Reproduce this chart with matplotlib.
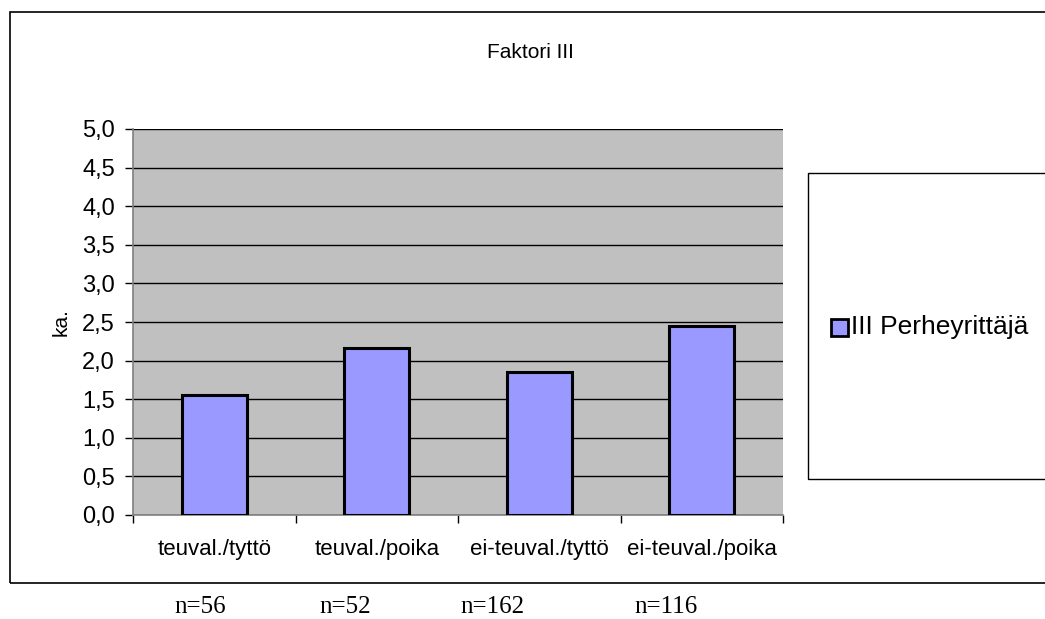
import numpy as np
import matplotlib.pyplot as plt
from matplotlib.patches import Rectangle

kategoriat = ["teuval./tyttö", "teuval./poika", "ei-teuval./tyttö", "ei-teuval./poika"]
arvot = [1.56, 2.16, 1.85, 2.45]
n_arvot = ["n=56", "n=52", "n=162", "n=116"]
sarja = "III Perheyrittäjä"
otsikko = "Faktori III"

W, H = 1045, 619
fig = plt.figure(figsize=(W / 100, H / 100), dpi=100)
plt.rcParams['font.family'] = ['Liberation Sans', 'DejaVu Sans']

def fx(px):
    return px / W

def fy(py):
    return 1 - py / H

# ulkoreunus
fig.patches.append(Rectangle((fx(10), fy(583)), fx(1100) - fx(10), fy(12) - fy(583),
                             transform=fig.transFigure, fill=False, edgecolor='black',
                             linewidth=1.2, clip_on=False))

ax = fig.add_axes([fx(133), fy(515), fx(783) - fx(133), fy(129) - fy(515)])
ax.set_facecolor('#c0c0c0')
x = np.arange(len(kategoriat))
ax.bar(x, arvot, width=0.4, color='#9999ff', edgecolor='black', linewidth=2.2, zorder=3)
ax.set_xlim(-0.5, len(kategoriat) - 0.5)
ax.set_ylim(0, 5)
ax.set_yticks(np.arange(0, 5.01, 0.5))
ax.set_yticklabels([f"{v:.1f}".replace('.', ',') for v in np.arange(0, 5.01, 0.5)], fontsize=17)
ax.yaxis.grid(True, color='black', linewidth=1, zorder=1)
ax.set_axisbelow(True)
ax.set_xticks(np.arange(-0.5, len(kategoriat)), minor=False)
ax.set_xticklabels([])
ax.set_xticks(x, minor=True)
ax.set_xticklabels(kategoriat, minor=True, fontsize=16)
ax.tick_params(axis='x', which='minor', length=0, pad=17)
ax.tick_params(axis='x', which='major', length=6, direction='out', width=1)
ax.tick_params(axis='y', length=6, direction='out', width=1, pad=7)
for s in ['top', 'right']:
    ax.spines[s].set_visible(False)
ax.spines['left'].set_color('#808080')
ax.spines['left'].set_linewidth(1.2)
ax.spines['bottom'].set_color('#808080')
ax.spines['bottom'].set_linewidth(1.2)
ax.set_ylabel("ka.", fontsize=15, labelpad=8)

fig.text(fx(530), fy(52), otsikko, ha='center', va='center', fontsize=15)

# selitelaatikko
fig.patches.append(Rectangle((fx(808), fy(479)), fx(1100) - fx(808), fy(173) - fy(479),
                             transform=fig.transFigure, fill=False, edgecolor='black',
                             linewidth=1, clip_on=False))
fig.patches.append(Rectangle((fx(831), fy(336)), fx(17), fy(319) - fy(336),
                             transform=fig.transFigure, facecolor='#9999ff',
                             edgecolor='black', linewidth=2))
fig.text(fx(851), fy(327), sarja, ha='left', va='center', fontsize=19)

# n-arvot
for xp, t in zip([200, 345, 492, 666], n_arvot):
    fig.text(fx(xp), fy(607), t, ha='center', va='center', fontsize=18,
             family=['Liberation Serif', 'DejaVu Serif'])

fig.savefig("out.png", dpi=100)
